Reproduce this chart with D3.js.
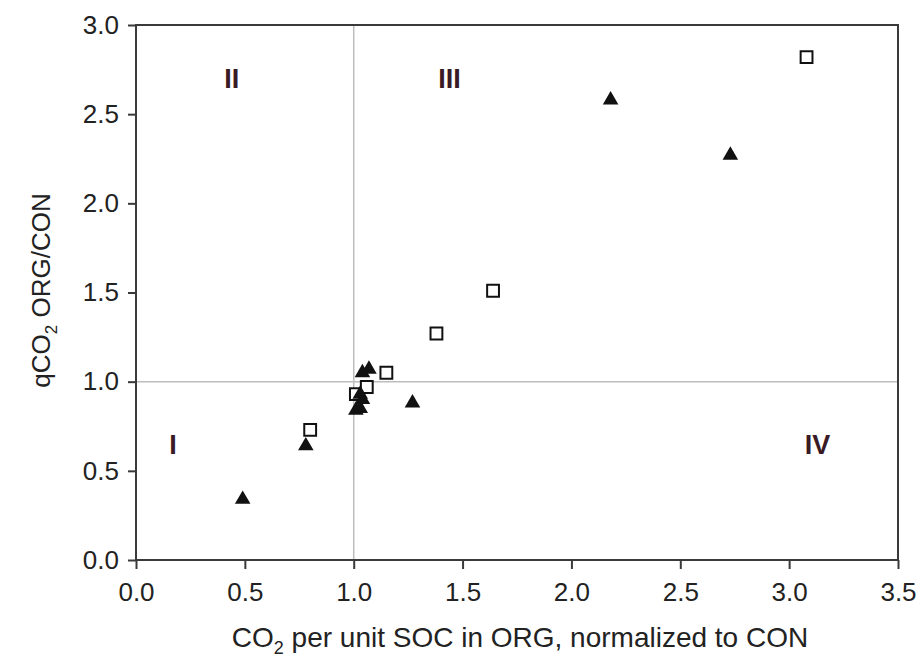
<!DOCTYPE html>
<html><head><meta charset="utf-8">
<script src="https://cdn.jsdelivr.net/npm/d3@7"></script>
<style>
html,body{margin:0;padding:0;background:#fff;}
text{font-family:"Liberation Sans",Arial,sans-serif;}
</style></head>
<body>
<svg id="c" width="919" height="657"></svg>
<script>
// Data
const triX = [0.49, 0.78, 1.01, 1.03, 1.03, 1.04, 1.04, 1.07, 1.27, 2.18, 2.73];
const triY = [0.34, 0.64, 0.84, 0.85, 0.93, 0.90, 1.05, 1.07, 0.88, 2.58, 2.27];
const sqX  = [0.80, 1.01, 1.06, 1.15, 1.38, 1.64, 3.08];
const sqY  = [0.73, 0.93, 0.97, 1.05, 1.27, 1.51, 2.82];
const xTicks = [0.0, 0.5, 1.0, 1.5, 2.0, 2.5, 3.0, 3.5];
const yTicks = [0.0, 0.5, 1.0, 1.5, 2.0, 2.5, 3.0];
const quadLabels = ["I", "II", "III", "IV"];
const quadPos = [[0.17, 0.65], [0.44, 2.7], [1.44, 2.7], [3.13, 0.65]];

const svg = d3.select("#c");
const L = 136, R = 898, T = 25, B = 560;
const x = d3.scaleLinear().domain([0, 3.5]).range([L, R]);
const y = d3.scaleLinear().domain([0, 3.0]).range([B, T]);
const axisCol = "#3a3a3a";
const textCol = "#222";

// reference lines
svg.append("line").attr("x1", x(1)).attr("x2", x(1)).attr("y1", T).attr("y2", B)
  .attr("stroke", "#bdbdbd").attr("stroke-width", 1.5);
svg.append("line").attr("x1", L).attr("x2", R).attr("y1", y(1)).attr("y2", y(1))
  .attr("stroke", "#bdbdbd").attr("stroke-width", 1.5);

// frame
svg.append("rect").attr("x", L).attr("y", T).attr("width", R - L).attr("height", B - T)
  .attr("fill", "none").attr("stroke", axisCol).attr("stroke-width", 2);

// axes
const xAxis = d3.axisBottom(x).tickValues(xTicks).tickFormat(d3.format(".1f")).tickSize(9).tickPadding(11);
const yAxis = d3.axisLeft(y).tickValues(yTicks).tickFormat(d3.format(".1f")).tickSize(8).tickPadding(9);
const gx = svg.append("g").attr("transform", `translate(0,${B})`).call(xAxis);
const gy = svg.append("g").attr("transform", `translate(${L},0)`).call(yAxis);
[gx, gy].forEach(g => {
  g.select(".domain").remove();
  g.selectAll(".tick line").attr("stroke", axisCol).attr("stroke-width", 2);
  g.selectAll(".tick text").attr("fill", textCol).style("font-size", "26px")
    .style("font-family", '"Liberation Sans",Arial,sans-serif');
});
gx.selectAll(".tick text").attr("dy", "0.8em");

// axis titles
const xt = svg.append("text").attr("x", (L + R) / 2 + 3).attr("y", 647)
  .attr("text-anchor", "middle").attr("fill", textCol).style("font-size", "28px");
xt.append("tspan").text("CO");
xt.append("tspan").text("2").attr("dy", 7).style("font-size", "18px");
xt.append("tspan").text(" per unit SOC in ORG, normalized to CON").attr("dy", -7);

const yt = svg.append("text").attr("transform", `translate(50,${(T + B) / 2 - 2}) rotate(-90)`)
  .attr("text-anchor", "middle").attr("fill", textCol).style("font-size", "26px");
yt.append("tspan").text("qCO");
yt.append("tspan").text("2").attr("dy", 7).style("font-size", "17px");
yt.append("tspan").text(" ORG/CON").attr("dy", -7);

// quadrant labels
svg.selectAll(".q").data(quadLabels).enter().append("text")
  .attr("x", (d, i) => x(quadPos[i][0])).attr("y", (d, i) => y(quadPos[i][1]))
  .attr("text-anchor", "middle").attr("dy", "0.36em")
  .attr("fill", "#3a1a24").style("font-size", "27px").style("font-weight", "bold")
  .text(d => d);

// squares
const sqSym = d3.symbol().type(d3.symbolSquare).size(140);
svg.selectAll(".sq").data(sqX).enter().append("path")
  .attr("d", sqSym)
  .attr("transform", (d, i) => `translate(${x(d)},${y(sqY[i])})`)
  .attr("fill", "#fff").attr("stroke", "#111").attr("stroke-width", 2);

// triangles
const triSym = d3.symbol().type(d3.symbolTriangle).size(105);
svg.selectAll(".tr").data(triX).enter().append("path")
  .attr("d", triSym)
  .attr("transform", (d, i) => `translate(${x(d)},${y(triY[i])})`)
  .attr("fill", "#111");
</script>
</body></html>
